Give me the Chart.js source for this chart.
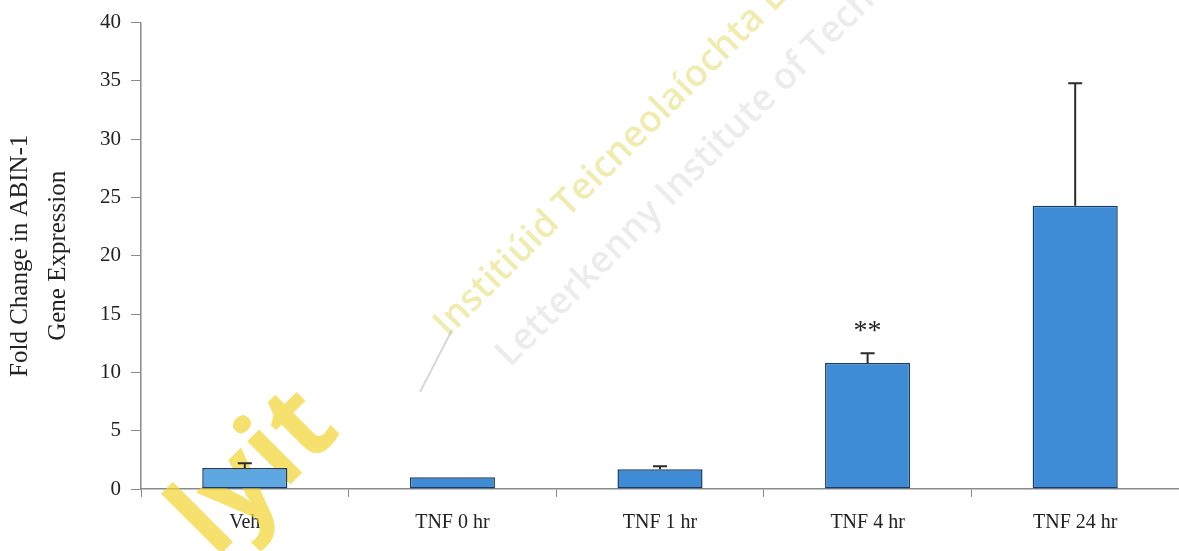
<!DOCTYPE html>
<html>
<head>
<meta charset="utf-8">
<script src="https://cdn.jsdelivr.net/npm/chart.js@4"></script>
<style>
  html, body { margin: 0; padding: 0; background: #fff; }
  #wrap { width: 1179px; height: 551px; }
</style>
</head>
<body>
<div id="wrap"><canvas id="abinChart"></canvas></div>
<script>
const categories = ['Veh', 'TNF 0 hr', 'TNF 1 hr', 'TNF 4 hr', 'TNF 24 hr'];
const foldChange = [1.8, 1.0, 1.7, 10.8, 24.3];
const errorUp = [0.4, 0, 0.25, 0.85, 10.5];
const sigMarks = ['', '', '', '**', ''];
const barColors = ['#5ea7e0', '#3f8cd6', '#3f8cd6', '#3f8cd6', '#3f8cd6'];

// faint watermark behind the bars
const watermark = {
  id: 'watermark',
  beforeDatasetsDraw(chart) {
    const ctx = chart.ctx;
    ctx.save();
    ctx.translate(448, 338);
    ctx.rotate(-Math.PI / 4);
    ctx.font = '600 37px "Open Sans"';
    ctx.fillStyle = 'rgba(222, 212, 80, 0.45)';
    ctx.fillText('Institiúid Teicneolaíochta Leitir Ceanainn', 0, 0);
    ctx.restore();

    ctx.save();
    ctx.translate(510, 368);
    ctx.rotate(-Math.PI / 4);
    ctx.font = '600 37px "Open Sans"';
    ctx.fillStyle = 'rgba(200, 200, 200, 0.35)';
    ctx.fillText('Letterkenny Institute of Technology', 0, 0);
    ctx.restore();

    ctx.save();
    ctx.strokeStyle = 'rgba(190, 190, 190, 0.6)';
    ctx.lineWidth = 2;
    ctx.beginPath();
    ctx.moveTo(420, 392);
    ctx.lineTo(452, 330);
    ctx.stroke();
    ctx.restore();

    ctx.save();
    ctx.translate(215, 560);
    ctx.rotate(-Math.PI / 4);
    ctx.font = 'bold 112px "Open Sans"';
    ctx.fillStyle = 'rgba(242, 212, 50, 0.7)';
    ctx.fillText('lyit', 0, 0);
    ctx.restore();
  }
};

// upward error bars and significance stars
const errorBars = {
  id: 'errorBars',
  afterDatasetsDraw(chart) {
    const ctx = chart.ctx;
    const y = chart.scales.y;
    const bars = chart.getDatasetMeta(0).data;
    ctx.save();
    ctx.strokeStyle = '#2b2b2b';
    ctx.lineWidth = 2;
    bars.forEach((bar, i) => {
      if (errorUp[i] > 0) {
        const y0 = y.getPixelForValue(foldChange[i]);
        const y1 = y.getPixelForValue(foldChange[i] + errorUp[i]);
        ctx.beginPath();
        ctx.moveTo(bar.x, y0);
        ctx.lineTo(bar.x, y1);
        ctx.moveTo(bar.x - 7, y1);
        ctx.lineTo(bar.x + 7, y1);
        ctx.stroke();
      }
      if (sigMarks[i]) {
        const yt = y.getPixelForValue(foldChange[i] + errorUp[i]);
        ctx.fillStyle = '#222';
        ctx.font = '28px "Liberation Serif"';
        ctx.textAlign = 'center';
        ctx.textBaseline = 'middle';
        ctx.fillText(sigMarks[i], bar.x, yt - 22);
      }
    });
    ctx.restore();
  }
};

new Chart(document.getElementById('abinChart'), {
  type: 'bar',
  data: {
    labels: categories,
    datasets: [{
      data: foldChange,
      backgroundColor: barColors,
      borderColor: '#1e3c63',
      borderWidth: 1.5,
      borderSkipped: false,
      barPercentage: 0.41,
      categoryPercentage: 1.0
    }]
  },
  options: {
    responsive: true,
    maintainAspectRatio: false,
    animation: false,
    layout: { padding: { top: 8, right: 0, left: 0, bottom: 0 } },
    plugins: {
      legend: { display: false },
      tooltip: { enabled: false }
    },
    scales: {
      x: {
        grid: {
          offset: true,
          drawOnChartArea: false,
          color: '#8a8a8a',
          tickLength: 8
        },
        border: { color: '#8a8a8a', width: 1.5 },
        ticks: {
          color: '#222',
          font: { family: 'Liberation Serif', size: 20 },
          padding: 14,
          maxRotation: 0
        },
        afterFit(scale) { scale.height = 62; }
      },
      y: {
        min: 0,
        max: 40,
        grid: {
          drawOnChartArea: false,
          color: '#8a8a8a',
          tickLength: 10
        },
        border: { color: '#8a8a8a', width: 1.5 },
        ticks: {
          stepSize: 5,
          color: '#222',
          font: { family: 'Liberation Serif', size: 21 },
          padding: 10
        },
        title: {
          display: true,
          text: ['Fold Change in ABIN-1', 'Gene Expression'],
          color: '#222',
          font: { family: 'Liberation Serif', size: 25, lineHeight: 1.5 },
          padding: { top: 2, bottom: 0 }
        },
        afterFit(scale) { scale.width = 141; }
      }
    }
  },
  plugins: [watermark, errorBars]
});
</script>
</body>
</html>
